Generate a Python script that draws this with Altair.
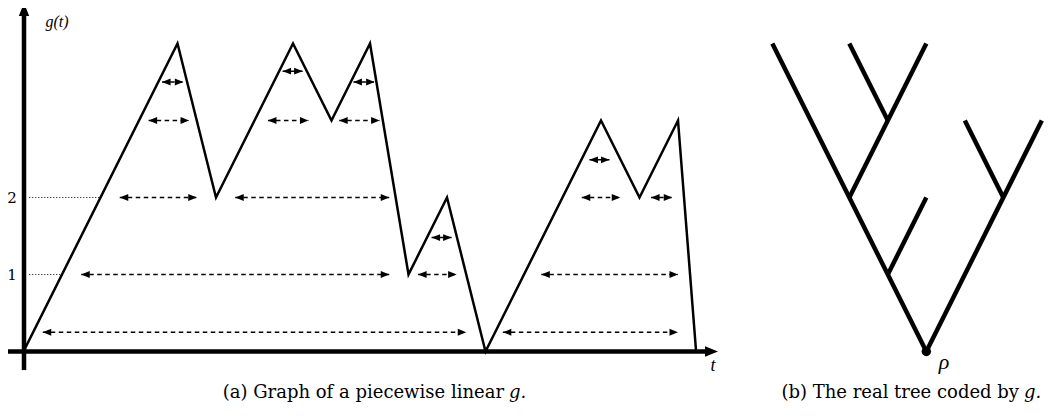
import altair as alt
import pandas as pd

# ---- data ----
# vertices of the piecewise linear function g
g_t = [0, 4, 5, 7, 8, 9, 10, 11, 12, 15, 16, 17, 17.47]
g_val = [0, 4, 2, 4, 3, 4, 1, 2, 0, 3, 2, 3, 0]

# dashed double arrows: left end, right end, level
arr_t1 = [0.5, 12.45, 1.5, 10.25, 13.45, 2.5, 5.5, 14.5, 16.3, 3.25, 6.35, 8.2, 3.6, 6.73, 8.57, 10.6, 14.7]
arr_t2 = [11.5, 17.0, 9.5, 11.25, 17.0, 4.5, 9.5, 15.5, 16.85, 4.3, 7.4, 9.25, 4.15, 7.25, 9.12, 11.12, 15.22]
arr_lvl = [0.25, 0.25, 1, 1, 1, 2, 2, 2, 2, 3, 3, 3, 3.5, 3.64, 3.5, 1.48, 2.49]

# y tick labels and dotted guides (guide ends where g first reaches the level)
tick_levels = [1, 2]
tick_labels = ["1", "2"]
guide_end_t = [1, 2]

# real tree edges (offset from root, height)
tree_u1 = [0, -1, -2, -1, 0, 2]
tree_h1 = [0, 1, 2, 3, 0, 2]
tree_u2 = [-4, 0, 0, -2, 3, 1]
tree_h2 = [4, 2, 4, 4, 3, 3]
tree_root_t = 23.45

# ---- layout ----
W, H = 1036, 402
X0, UX = 15.5, 38.5      # chart px of t=0, px per t unit
Y0, UY = 343.5, 77.0     # chart px of g=0, px per g unit

xs = alt.Scale(domain=[-X0 / UX, (W - X0) / UX], nice=False, zero=False)
ys = alt.Scale(domain=[(Y0 - H) / UY, Y0 / UY], nice=False, zero=False)

def X(field, **kw):
    return alt.X(field, type="quantitative", scale=xs, axis=None, **kw)

def Y(field, **kw):
    return alt.Y(field, type="quantitative", scale=ys, axis=None, **kw)

RIGHT = "M 0 0 L -2 -0.8 L -2 0.8 Z"
LEFT = "M 0 0 L 2 -0.8 L 2 0.8 Z"
UP = "M 0 0 L -0.8 2 L 0.8 2 Z"

def px_t(sx):
    return (sx - 8 - X0) / UX

def px_g(sy):
    return (Y0 - (sy - 8)) / UY

# g line
g_df = pd.DataFrame({"t": g_t, "g": g_val, "i": range(len(g_t))})
g_line = alt.Chart(g_df).mark_line(color="black", strokeWidth=2.5, strokeJoin="miter").encode(
    x=X("t"), y=Y("g"), order="i:Q")

# axes
ax_df = pd.DataFrame({"x1": [px_t(5), px_t(24)], "x2": [px_t(706), px_t(24)],
                      "y1": [px_g(351.5), px_g(370)], "y2": [px_g(351.5), px_g(15)]})
axes = alt.Chart(ax_df).mark_rule(color="black", strokeWidth=4.5).encode(
    x=X("x1"), x2="x2", y=Y("y1"), y2="y2")
xhead = alt.Chart(pd.DataFrame({"x": [px_t(718)], "y": [px_g(351.5)]})).mark_point(
    shape=RIGHT, size=169, filled=True, color="black", opacity=1, strokeWidth=0).encode(x=X("x"), y=Y("y"))
yhead = alt.Chart(pd.DataFrame({"x": [px_t(24)], "y": [px_g(3)]})).mark_point(
    shape=UP, size=169, filled=True, color="black", opacity=1, strokeWidth=0).encode(x=X("x"), y=Y("y"))

# dotted guides
gd_df = pd.DataFrame({"lvl": tick_levels, "end": guide_end_t, "start": [0.15] * len(tick_levels),
                      "lab": tick_labels})
guides = alt.Chart(gd_df).mark_rule(color="black", strokeWidth=1, strokeDash=[1, 2]).encode(
    x=X("start"), x2="end", y=Y("lvl"))
ticks = alt.Chart(gd_df).mark_text(font="DejaVu Serif", fontSize=15, color="black",
                                   align="center", baseline="middle").encode(
    x=alt.value(4), y=Y("lvl"), text="lab:N")

# dashed arrows
ar_df = pd.DataFrame({"t1": arr_t1, "t2": arr_t2, "lvl": arr_lvl})
ar_line = alt.Chart(ar_df).mark_rule(color="black", strokeWidth=1.4, strokeDash=[4.5, 3.5]).encode(
    x=X("t1"), x2="t2", y=Y("lvl"))
ar_left = alt.Chart(ar_df).mark_point(shape=LEFT, size=72, filled=True, color="black",
                                      opacity=1, strokeWidth=0).encode(x=X("t1"), y=Y("lvl"))
ar_right = alt.Chart(ar_df).mark_point(shape=RIGHT, size=72, filled=True, color="black",
                                       opacity=1, strokeWidth=0).encode(x=X("t2"), y=Y("lvl"))

# tree
tr_df = pd.DataFrame({"x1": [tree_root_t + u for u in tree_u1], "y1": tree_h1,
                      "x2": [tree_root_t + u for u in tree_u2], "y2": tree_h2})
tree = alt.Chart(tr_df).mark_rule(color="black", strokeWidth=4.5).encode(
    x=X("x1"), x2="x2", y=Y("y1"), y2="y2")
root = alt.Chart(pd.DataFrame({"x": [tree_root_t], "y": [0.0]})).mark_circle(
    size=90, color="black", opacity=1).encode(x=X("x"), y=Y("y"))

# texts
def txt(s, sx, sy, size=13, style="normal", align="center", font="DejaVu Serif"):
    return alt.Chart(pd.DataFrame({"s": [s]})).mark_text(
        font=font, fontSize=size, fontStyle=style, color="black",
        align=align, baseline="middle").encode(
        x=alt.value(sx - 8), y=alt.value(sy - 8), text="s:N")

MATH = "Liberation Serif"
texts = [
    txt("g(t)", 57, 22, 16, "italic", font=MATH),
    txt("t", 713, 366, 18, "italic", font=MATH),
    txt("ρ", 944, 362, 22, "italic", font=MATH),
    txt("(a) Graph of a piecewise linear", 504, 393, 18, "normal", "right"),
    txt("g.", 509, 393, 18, "italic", "left"),
    txt("(b) The real tree coded by", 1019, 393, 18, "normal", "right"),
    txt("g.", 1024, 393, 18, "italic", "left"),
]

chart = alt.layer(guides, ar_line, ar_left, ar_right, g_line, axes, xhead, yhead,
                  tree, root, ticks, *texts).properties(
    width=W, height=H, padding=0, autosize=alt.AutoSizeParams(type="none")
).configure_view(stroke=None)

chart.save("out.html", embed_options={"renderer": "svg", "actions": False})
